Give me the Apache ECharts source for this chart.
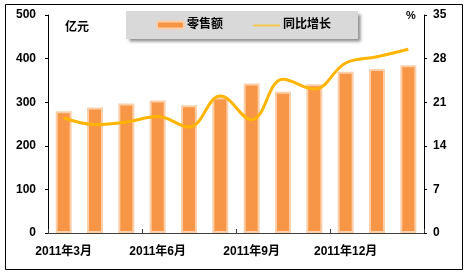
<!DOCTYPE html>
<html><head><meta charset="utf-8">
<script src="https://cdn.jsdelivr.net/npm/echarts@6/dist/echarts.min.js"></script>
<style>html,body{margin:0;padding:0;background:#fff}#c{width:464px;height:273px}</style>
</head><body><div id="c"></div>
<script>
const categories = ['2011年3月','2011年4月','2011年5月','2011年6月','2011年7月','2011年8月','2011年9月','2011年10月','2011年11月','2011年12月','2012年1月','2012年2月'];
const retailSales = [279, 288, 297, 304, 293, 311, 343, 324, 341, 370, 376, 385];
const yoyGrowth = [18.5, 17.4, 17.8, 18.7, 17.0, 22.0, 18.2, 24.7, 23.1, 27.3, 28.3, 29.5];
const leftTicks = [0, 100, 200, 300, 400, 500];
const rightTicks = [0, 7, 14, 21, 28, 35];
const FONT = '"Liberation Sans", Arial, "Noto Sans CJK SC", sans-serif';

const chart = echarts.init(document.getElementById('c'));
chart.setOption({
  animation: false,
  backgroundColor: '#fff',
  textStyle: { fontFamily: FONT },
  grid: { left: 48, right: 40, top: 15, bottom: 40 },
  legend: {
    left: 126, top: 11, width: 234, height: 29,
    padding: [8, 27, 8, 30],
    backgroundColor: '#D9D9D9',
    shadowColor: 'rgba(0,0,0,0.45)', shadowBlur: 3, shadowOffsetX: 3, shadowOffsetY: 3,
    itemWidth: 27, itemHeight: 7, itemGap: 30,
    textStyle: { fontFamily: FONT, fontWeight: 'bold', fontSize: 12, color: '#000', padding: [0, 0, 0, -2] },
    data: [
      { name: '零售额' },
      { name: '同比增长', icon: 'path://M0,0L0.01,0M0,3L27,3L27,5L0,5ZM26.99,7L27,7', itemStyle: { color: '#F2C94C', borderWidth: 0 } }
    ]
  },
  graphic: [
    { type: 'rect', shape: { x: 5.5, y: 4.5, width: 457, height: 265 }, style: { fill: 'none', stroke: '#000', lineWidth: 1 }, silent: true },
    { type: 'text', left: 65, top: 22, style: { text: '亿元', font: 'bold 12px ' + FONT, fill: '#000' } },
    { type: 'text', left: 406, top: 10, style: { text: '%', font: 'bold 11px ' + FONT, fill: '#000' } }
  ],
  xAxis: {
    type: 'category', data: categories, boundaryGap: true,
    axisLine: { lineStyle: { color: '#404040', width: 1 } },
    axisTick: { show: true, inside: true, length: 4, interval: 2, lineStyle: { color: '#404040' } },
    axisLabel: { interval: 2, margin: 13, color: '#000', fontWeight: 'bold', fontSize: 12, fontFamily: FONT }
  },
  yAxis: [
    {
      type: 'value', min: leftTicks[0], max: leftTicks[leftTicks.length - 1], interval: 100,
      axisLine: { show: true, lineStyle: { color: '#000' } },
      axisTick: { show: true, length: 3, lineStyle: { color: '#000' } },
      splitLine: { show: false },
      axisLabel: { margin: 12, color: '#000', fontWeight: 'bold', fontSize: 12, fontFamily: FONT }
    },
    {
      type: 'value', min: rightTicks[0], max: rightTicks[rightTicks.length - 1], interval: 7,
      axisLine: { show: true, lineStyle: { color: '#000' } },
      axisTick: { show: true, length: 3, lineStyle: { color: '#000' } },
      splitLine: { show: false },
      axisLabel: { margin: 9, color: '#000', fontWeight: 'bold', fontSize: 12, fontFamily: FONT }
    }
  ],
  series: [
    {
      name: '零售额', type: 'bar', yAxisIndex: 0, data: retailSales, barWidth: 16,
      itemStyle: { color: '#F79646', borderColor: '#FBCFAA', borderWidth: 2 }
    },
    {
      name: '同比增长', type: 'line', yAxisIndex: 1, data: yoyGrowth, smooth: 0.4,
      symbol: 'none', lineStyle: { color: '#FFB400', width: 3 }, itemStyle: { color: '#FFB400' }, z: 3
    }
  ]
});
</script></body></html>
